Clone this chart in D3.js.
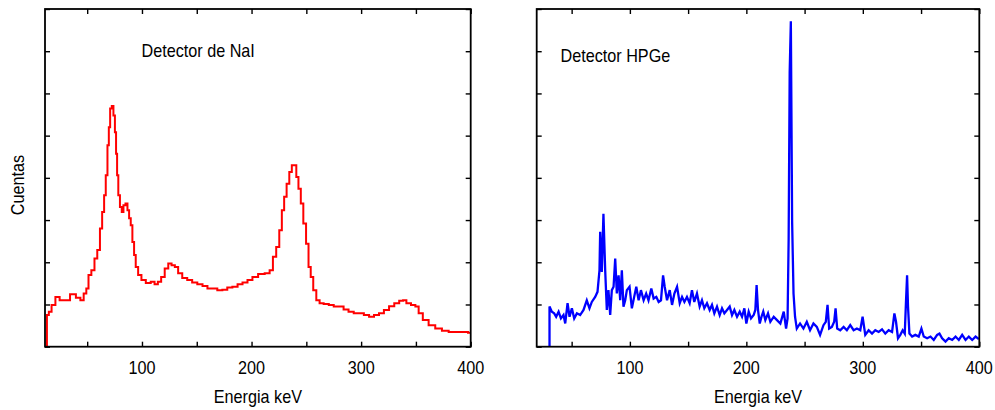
<!DOCTYPE html>
<html><head><meta charset="utf-8">
<script src="https://cdn.jsdelivr.net/npm/d3@7"></script>
<style>body{margin:0;background:#fff} text{font-family:"Liberation Sans",Arial,Helvetica,sans-serif;fill:#000}</style>
</head><body><svg id="c" width="995" height="410"></svg>
<script>
// --- Data (counts in arbitrary units = y-tick intervals) ---
const naiEnergy = [12.5,14,16,19,23,26.7,31.3,37.4,42,45.6,48,50.4,52,55.6,57.7,60.7,62.6,64.7,66.2,67.7,69.3,70.2,71.7,73.2,74.7,75.9,76.8,77.8,79,80.8,82.3,83.9,86,87.5,89,90.5,92,93.6,95,98,101,106,110,113,116,119,122.5,125.5,128.5,131.5,134.5,139,143.6,148,153,157.5,162,166.5,171,175.7,180,185,189.5,194,198.6,203,209,215,218,221,224,226.6,228.7,230.8,233.2,235.7,237.8,240,241.7,243.9,246,248.5,251,253,255,257.6,260.6,263.6,268,273,277,282,286,291,295.5,300,305,309.5,314,318.6,323,328,332.5,337,339.6,343,348,351,354,358.6,364.6,370.7,376.8,383,389,395,400];
const naiCounts = [0,0.75,0.83,0.99,1.18,1.10,1.10,1.24,1.16,1.10,1.26,1.38,1.70,1.81,2.09,2.29,2.80,3.19,3.59,4.06,4.77,5.20,5.64,5.70,5.48,5.08,4.57,4.06,3.59,3.31,3.19,3.35,3.39,3.23,3.04,2.88,2.48,2.17,1.89,1.70,1.58,1.51,1.54,1.48,1.54,1.65,1.85,1.97,1.93,1.89,1.74,1.63,1.58,1.52,1.48,1.44,1.38,1.38,1.34,1.35,1.40,1.42,1.48,1.52,1.58,1.65,1.72,1.74,1.81,2.13,2.36,2.76,3.23,3.55,3.86,4.14,4.30,4.30,4.02,3.74,3.39,2.92,2.44,1.89,1.65,1.34,1.10,1.03,1.01,0.99,0.95,0.95,0.88,0.83,0.79,0.79,0.75,0.71,0.75,0.79,0.87,0.96,1.03,1.09,1.10,1.03,0.99,0.95,0.79,0.63,0.51,0.43,0.38,0.35,0.35,0.35,0.33];

const hpgeEnergy = [31,31,33,35,36.7,38.8,40.8,43,44.5,46.5,48.2,50.2,52.2,54.5,57.3,60.2,63,65.3,67.3,70.2,72.2,73.9,74.5,75.9,77.3,78.8,80.2,81.6,83.1,84.5,86,87.4,88.8,90.3,91.7,93.1,94.5,96,97.4,99.7,101.7,103.7,105.5,107.5,109.5,111.8,114,116,118.4,120.4,122.7,124.7,126.7,128.5,129.9,131.9,134.2,136.2,138.2,140.5,142.8,144.8,146.8,149,151.3,153.3,155.3,157.6,159.9,161.9,163.9,166.2,168.5,170.5,172.5,174.8,177.1,179.1,181.1,183.4,185.7,187.7,189.7,192,194.3,196.3,198.3,200,202,204,206.3,207.7,208.8,210,211.5,213,214.5,216.3,218.6,220.6,223.5,226.3,229.2,232.1,234.1,235.4,236.3,237.2,238.2,239.3,240.5,241.8,243.3,246.1,249,251.9,254.7,257.6,260.5,263.3,266.2,268.2,269.7,271.1,273.4,275.4,276.6,278,280.6,283.5,286.3,289.2,292.1,294.9,297.8,299.8,302.1,305,307.9,310.7,313.6,316.5,319.3,322.2,325.1,327.1,328.5,330.2,332.2,334.2,336,337.1,338,338.8,340,342.3,345.1,348,350.3,352.3,355.2,358.1,360.9,363.8,365.8,368.1,371,373.8,376.7,379.6,382.4,385.3,388.2,391,393.9,396.8,399.6];
const hpgeCounts = [0,0.95,0.83,0.79,0.71,0.83,0.67,0.75,0.55,1.03,0.71,0.91,0.67,0.79,0.75,0.87,1.10,0.91,1.06,1.18,1.30,1.81,2.72,1.77,3.15,1.81,0.87,1.34,0.75,1.34,1.42,2.09,1.26,1.69,1.10,1.81,0.95,1.10,1.34,1.42,0.91,1.18,1.42,1.10,1.34,1.10,1.26,1.10,1.38,1.14,1.18,1.06,1.10,1.69,1.42,1.10,1.34,0.99,1.26,1.42,1.03,1.18,1.06,1.18,1.03,1.34,1.06,1.26,0.95,1.10,0.91,1.03,0.87,0.99,0.79,0.95,0.75,0.91,0.79,0.87,0.95,0.75,0.87,0.71,0.83,0.71,0.91,0.55,0.83,0.67,0.75,0.87,1.46,0.87,0.55,0.71,0.83,0.63,0.79,0.59,0.71,0.63,0.55,0.83,0.43,0.67,2.52,6.50,7.71,2.96,1.26,0.71,0.43,0.55,0.43,0.59,0.39,0.55,0.47,0.28,0.51,0.59,0.99,0.43,0.47,0.59,0.91,0.43,0.39,0.47,0.39,0.51,0.39,0.43,0.39,0.71,0.28,0.39,0.31,0.39,0.35,0.41,0.31,0.39,0.35,0.79,0.59,0.20,0.28,0.39,0.31,1.10,1.69,0.95,0.31,0.24,0.28,0.24,0.43,0.24,0.20,0.24,0.16,0.28,0.31,0.20,0.12,0.20,0.16,0.24,0.16,0.28,0.16,0.24,0.16,0.24,0.18];

const xTickValues = [50,100,150,200,250,300,350,400];
const xTickLabels = [100,200,300,400];
const yTickValues = [0,1,2,3,4,5,6,7,8];
const panelTitles = ["Detector de NaI", "Detector HPGe"];
const xAxisTitle = "Energia keV";
const yAxisTitle = "Cuentas";

// --- Layout ---
const svg = d3.select("#c");
const plotTop = 9, plotBottom = 346.7;
const panels = [
  {energy: naiEnergy, counts: naiCounts, color: "#ff0000", left: 45, right: 470.7, xMin: 11.5,
   curve: d3.curveStep, width: 2, title: panelTitles[0], titleX: 141.5, titleY: 57.3},
  {energy: hpgeEnergy, counts: hpgeCounts, color: "#0000ff", left: 536.7, right: 979.3, xMin: 20,
   curve: d3.curveLinear, width: 2.3, title: panelTitles[1], titleX: 560.5, titleY: 61.6}
];
const y = d3.scaleLinear().domain([0, 8]).range([plotBottom, plotTop]);
const SX = 0.9; // horizontal condensing of the Helvetica-like font

function label(g, x, yy, txt, size, anchor, rot) {
  const t = g.append("g").attr("transform", `translate(${x},${yy})` + (rot ? ` rotate(${rot})` : "") + ` scale(${SX},1)`);
  t.append("text").attr("text-anchor", anchor).attr("font-size", size).text(txt);
}

panels.forEach((p, i) => {
  const x = d3.scaleLinear().domain([p.xMin, 400]).range([p.left, p.right]);
  const g = svg.append("g");

  const clipId = "clip" + i;
  svg.append("clipPath").attr("id", clipId).append("rect")
    .attr("x", p.left).attr("y", plotTop).attr("width", p.right - p.left).attr("height", plotBottom - plotTop);

  const line = d3.line().x((d, k) => x(p.energy[k])).y((d, k) => y(d)).curve(p.curve);
  g.append("path").attr("clip-path", `url(#${clipId})`).attr("d", line(p.counts))
    .attr("fill", "none").attr("stroke", p.color).attr("stroke-width", p.width).attr("stroke-linejoin", "miter");

  // axes: inward ticks on all four sides
  const mk = (axis, tx, ty) => {
    const a = g.append("g").attr("transform", `translate(${tx},${ty})`).call(axis);
    a.select(".domain").remove();
    a.selectAll("line").attr("stroke", "#000").attr("stroke-width", 1.4);
    a.selectAll("text").remove();
  };
  mk(d3.axisBottom(x).tickValues(xTickValues).tickSize(-5), 0, plotBottom);
  mk(d3.axisTop(x).tickValues(xTickValues).tickSize(-5), 0, plotTop);
  mk(d3.axisLeft(y).tickValues(yTickValues).tickSize(-5), p.left, 0);
  mk(d3.axisRight(y).tickValues(yTickValues).tickSize(-5), p.right, 0);

  g.append("rect").attr("x", p.left).attr("y", plotTop).attr("width", p.right - p.left)
    .attr("height", plotBottom - plotTop).attr("fill", "none").attr("stroke", "#000").attr("stroke-width", 1.8);

  xTickLabels.forEach(v => label(g, x(v), 374, v, 18, "middle"));
  label(g, (p.left + p.right) / 2, 403, xAxisTitle, 18, "middle");
  label(g, p.titleX, p.titleY, p.title, 18, "start");
});

label(svg, 23.5, 185, yAxisTitle, 18, "middle", -90);
</script></body></html>
